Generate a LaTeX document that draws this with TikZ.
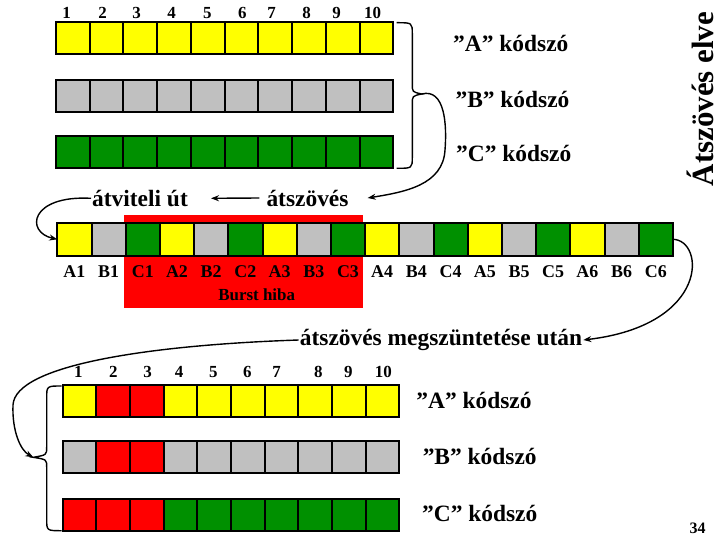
\documentclass[tikz,border=0pt]{standalone}
\usepackage{fontspec}
\setmainfont{Liberation Serif}
\usetikzlibrary{arrows.meta}
\definecolor{kyellow}{HTML}{FFFF00}
\definecolor{kgray}{HTML}{C0C0C0}
\definecolor{kgreen}{HTML}{009000}
\definecolor{kred}{HTML}{FF0000}
\begin{document}
\begin{tikzpicture}[x=1bp,y=-1bp]
            \tikzset{
                cell/.style={draw, line width=2bp, inner sep=0pt, outer sep=0pt, minimum width=#1, minimum height=32bp},
                word/.style={font=\fontsize{23.5}{28}\selectfont\bfseries, inner sep=1bp},
                num/.style={font=\fontsize{17}{20}\selectfont\bfseries, inner sep=1bp},
                lab/.style={font=\fontsize{18}{21}\selectfont\bfseries, inner sep=1bp},
                bow/.style={line width=1.4bp},
                arr/.style={bow, -{Stealth[length=8bp,width=6bp]}},}
            \useasboundingbox (0,0) rectangle (720,540);
            % code words before interleaving
            \foreach \r/\col/\y in {A/kyellow/38.5,B/kgray/96,C/kgreen/152.5}
                \foreach \i in {1,...,10}
                    \node[cell=33.73bp, fill=\col] (top\r\i) at ({56+33.73*(\i-0.5)},\y) {};
            \foreach \n/\x in {1/66.7,2/102.7,3/136.7,4/171.7,5/207.3,6/242.3,7/271.7,8/306.7,9/336.7,10/372.7}
                \node[num] (tn\n) at (\x,13.3) {\n};
            \node[word] (kA) at (510.8,43.3) {”A” kódszó};
            \node[word] (kB) at (512.5,99) {”B” kódszó};
            \node[word] (kC) at (513.7,153.3) {”C” kódszó};
            \node[rotate=90, anchor=base, font=\fontsize{31}{36}\selectfont\bfseries] (title) at (713.3,99) {Átszövés elve};
            \coordinate (ttip) at (421.7,94);
            \draw[bow] (396.7,22.7) .. controls (412.3,22.7) .. (412.3,34) -- (412.3,84) .. controls (412.3,92) .. (ttip)
                .. controls (412.3,96) .. (412.3,104) -- (412.3,157) .. controls (412.3,168.3) .. (396.7,168.3);
            % channel
            \node[word] (atv) at (140,198.3) {átviteli út};
            \node[word] (atsz) at (307.5,198) {átszövés};
            \draw[arr] (ttip) .. controls (445,88) and (447,125) .. (445,150) .. controls (443,185) and (405,192) .. ([xshift=18bp]atsz.east);
            \draw[arr] ([xshift=-6bp]atsz.west) -- ([xshift=22bp]atv.east);
            \fill[kred] (124,215) rectangle (363,307.7);
            \foreach \k in {1,...,6}
                \foreach \r/\col [count=\j] in {A/kyellow,B/kgray,C/kgreen}{
                    \pgfmathtruncatemacro\i{3*(\k-1)+\j}
                    \node[cell=34.2bp, minimum height=33.3bp, fill=\col] (mid\i) at ({57.3+34.2*(\i-0.5)},239.3) {};
                    \node[lab] (lab\i) at ({57.3+34.2*(\i-0.5)},271.7) {\r\k};
                }
            \node[lab, font=\fontsize{17}{20}\selectfont\bfseries] (burst) at (256.7,295) {Burst hiba};
            \draw[arr] (atv.west) .. controls (30,195) and (25,232) .. (mid1.west);
            % after de-interleaving
            \node[word] (megsz) at (441,340) {átszövés megszüntetése után};
            \draw[arr] (mid18.east) .. controls (705,240) and (710,325) .. (megsz.east);
            \foreach \r/\col/\y in {A/kyellow/401.2,B/kgray/457,C/kgreen/514.5}
                \foreach \i in {1,...,10}
                    \node[cell=33.66bp, fill=\col] (bot\r\i) at ({62.7+33.66*(\i-0.5)},\y) {};
            \foreach \r/\a in {A/2,B/2,C/1}
                \foreach \i in {\a,...,3}
                    \node[cell=33.66bp, fill=kred] (err\r\i) at (bot\r\i) {};
            \foreach \n/\x in {1/78.3,2/113.3,3/147.7,4/179,5/213.3,6/247.3,7/276.7,8/318.3,9/348.3,10/383.3}
                \node[num] (bn\n) at (\x,372.3) {\n};
            \node[word] (bA) at (474,400) {”A” kódszó};
            \node[word] (bB) at (479.7,456.7) {”B” kódszó};
            \node[word] (bC) at (479.7,513.3) {”C” kódszó};
            \coordinate (btip) at (33.3,457.3);
            \draw[bow] (61.7,386) .. controls (46.7,386) .. (46.7,398) -- (46.7,447) .. controls (46.7,455) .. (btip)
                .. controls (46.7,459.5) .. (46.7,467) -- (46.7,519) .. controls (46.7,530.7) .. (61.7,530.7);
            \draw[arr] (megsz.west) .. controls (150,345) and (15,365) .. (13,405) .. controls (12,430) and (20,450) .. (btip);
            \node[font=\fontsize{16}{18}\selectfont\bfseries] (pg) at (697.5,528.3) {34};
        \end{tikzpicture}
\end{document}
